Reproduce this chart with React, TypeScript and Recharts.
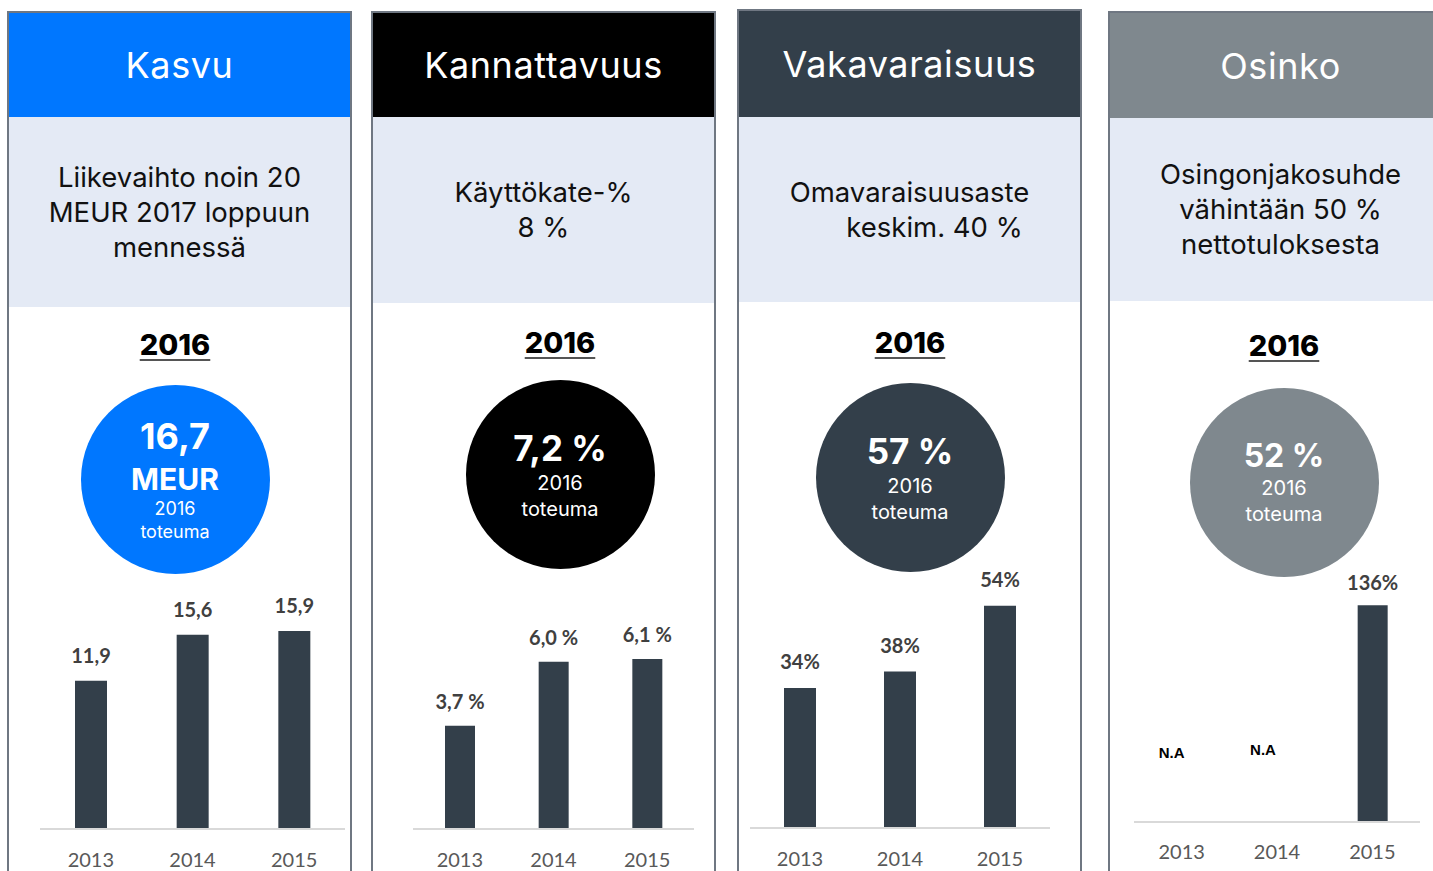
import { BarChart, Bar, XAxis, YAxis, LabelList, ReferenceDot } from 'recharts';

// data
const years = ['2013', '2014', '2015'];
const kasvuValues = [11.9, 15.6, 15.9];
const kannattavuusValues = [3.7, 6.0, 6.1];
const vakavaraisuusValues = [34, 38, 54];
const osinkoValues = [null, null, 136];
const osinkoNotes = ['N.A', 'N.A', null];

const titles = ['Kasvu', 'Kannattavuus', 'Vakavaraisuus', 'Osinko'];
const targets = [
  ['Liikevaihto noin 20', 'MEUR 2017 loppuun', 'mennessä'],
  ['Käyttökate-%', '8 %'],
  ['Omavaraisuusaste', 'keskim. 40 %'],
  ['Osingonjakosuhde', 'vähintään 50 %', 'nettotuloksesta'],
];
const actualYear = '2016';
const actuals = [['16,7', 'MEUR'], ['7,2 %'], ['57 %'], ['52 %']];
const actualNote = 'toteuma';

// non-breaking space keeps "6,0 %" on one line
const comma = (v: number) => v.toFixed(1).replace('.', ',');
const formatters = [
  (v: any) => comma(v),
  (v: any) => comma(v) + '\u00A0%',
  (v: any) => v + '%',
  (v: any) => (v == null ? '' : v + '%'),
];

// layout
const HEAD_FONT = '"Inter", "Lato", sans-serif';
const CHART_FONT = '"Lato", "Open Sans", sans-serif';
const BAR = '#333F4A';

const panels = [
  { left: 7, top: 11, headBottom: 117, bandBottom: 307, color: '#0077FF', cx: 175, cy: 479, yearY: 345,
    chart: { top: 20, left: 33, right: 7, xh: 42, max: 20, barSize: 32, lo: 18, tm: 18 } },
  { left: 371, top: 11, headBottom: 117, bandBottom: 303, color: '#000000', cx: 560, cy: 474, yearY: 343,
    chart: { top: 46, left: 42, right: 22, xh: 42, max: 8, barSize: 30, lo: 17, tm: 18 } },
  { left: 737, top: 9, headBottom: 117, bandBottom: 302, color: '#333F4A', cx: 910, cy: 477, yearY: 343,
    chart: { top: 21, left: 13, right: 32, xh: 43, max: 60, barSize: 32, lo: 19, tm: 18 } },
  { left: 1108, top: 11, headBottom: 118, bandBottom: 301, color: '#7F888E', cx: 1284, cy: 482, yearY: 346,
    chart: { top: 23, left: 26, right: 33, xh: 49, max: 150, barSize: 30, lo: 15, tm: 17 } },
];
const PANEL_W = 345;
const NA_LEVEL = 44;

const seriesValues = [kasvuValues, kannattavuusValues, vakavaraisuusValues, osinkoValues];

function CircleText({ idx, cx, cy }: { idx: number; cx: number; cy: number }) {
  const main = actuals[idx];
  const lines: { text: string; dy: number; size: number; bold: boolean }[] =
    main.length === 2
      ? [
          { text: main[0], dy: -42, size: 36, bold: true },
          { text: main[1], dy: 0, size: 30, bold: true },
          { text: actualYear, dy: 30, size: 18, bold: false },
          { text: actualNote, dy: 53, size: 18, bold: false },
        ]
      : [
          { text: main[0], dy: -26, size: idx === 3 ? 32 : 35, bold: true },
          { text: actualYear, dy: idx === 3 ? 6 : 9, size: 20, bold: false },
          { text: actualNote, dy: idx === 3 ? 32 : 35, size: 20, bold: false },
        ];
  return (
    <>
      {lines.map((l, i) => (
        <div
          key={i}
          style={{
            position: 'absolute', left: cx - 100, width: 200, top: cy + l.dy - l.size * 0.6,
            height: l.size * 1.2, lineHeight: `${l.size * 1.2}px`, textAlign: 'center',
            color: '#fff', fontSize: l.size, fontWeight: l.bold ? 700 : 400, fontFamily: HEAD_FONT,
          }}
        >
          {l.text}
        </div>
      ))}
    </>
  );
}

function MiniBars({ idx }: { idx: number }) {
  const p = panels[idx];
  const c = p.chart;
  const values = seriesValues[idx];
  const data = years.map((y, i) => ({ year: y, value: values[i] }));
  return (
    <div style={{ position: 'absolute', left: p.left, top: 560 }}>
      <BarChart width={PANEL_W} height={311} data={data} margin={{ top: c.top, left: c.left, right: c.right, bottom: 0 }}>
        <XAxis
          dataKey="year"
          interval={0}
          height={c.xh}
          tickLine={false}
          tickMargin={c.tm}
          axisLine={{ stroke: '#D9D9D9', strokeWidth: 2 }}
          tick={{ fill: '#595959', fontSize: 20, fontFamily: CHART_FONT }}
        />
        <YAxis hide domain={[0, c.max]} allowDataOverflow />
        <Bar dataKey="value" fill={BAR} barSize={c.barSize} isAnimationActive={false}>
          <LabelList
            dataKey="value"
            position="top"
            offset={c.lo}
            formatter={formatters[idx]}
            style={{ fill: '#404040', fontSize: 20, fontWeight: 700, fontFamily: CHART_FONT }}
          />
        </Bar>
        {idx === 3 &&
          osinkoNotes.map((n, i) =>
            n ? (
              <ReferenceDot
                key={i}
                x={years[i]}
                y={NA_LEVEL + i * 2}
                r={0}
                shape={(sp: any) => (
                  <text
                    x={sp.cx - (i === 0 ? 10 : 14)}
                    y={sp.cy + 6}
                    textAnchor="middle"
                    fill="#000"
                    fontSize={15}
                    fontWeight={700}
                    fontFamily='"Liberation Sans", Arial, sans-serif'
                  >
                    {n}
                  </text>
                )}
              />
            ) : null
          )}
      </BarChart>
    </div>
  );
}

function Panel({ idx }: { idx: number }) {
  const p = panels[idx];
  const lines = targets[idx];
  return (
    <>
      <div
        style={{
          position: 'absolute', left: p.left, top: p.top, width: PANEL_W, height: 900,
          border: '2px solid #6F7782', borderBottom: 'none', boxSizing: 'border-box', background: '#fff',
        }}
      >
        <div
          style={{
            height: p.headBottom - p.top - 2, background: p.color, color: '#fff',
            display: 'flex', alignItems: 'center', justifyContent: 'center',
            fontFamily: HEAD_FONT, fontSize: 36, fontWeight: 400, letterSpacing: 0.6,
          }}
        >
          {titles[idx]}
        </div>
        <div
          style={{
            height: p.bandBottom - p.headBottom, background: '#E4EAF5', color: '#111',
            display: 'flex', flexDirection: 'column', alignItems: 'center', justifyContent: 'center',
            fontFamily: HEAD_FONT, fontSize: 27.5, lineHeight: '35px',
          }}
        >
          {lines.map((l, i) => (
            <div key={i} style={idx === 2 && i === 1 ? { paddingLeft: 50 } : undefined}>
              {l}
            </div>
          ))}
        </div>
      </div>
      <div
        style={{
          position: 'absolute', left: p.cx - 60, width: 120, top: p.yearY - 20, height: 40, lineHeight: '40px',
          textAlign: 'center', fontFamily: HEAD_FONT, fontWeight: 800, fontSize: 29, color: '#000',
        }}
      >
        <span style={{ textDecoration: 'underline', textDecorationThickness: 2, textUnderlineOffset: 4, textDecorationColor: '#555' }}>
          {actualYear}
        </span>
      </div>
      <div
        style={{
          position: 'absolute', left: p.cx - 94.5, top: p.cy - 94.5, width: 189, height: 189,
          borderRadius: '50%', background: p.color,
        }}
      />
      <CircleText idx={idx} cx={p.cx} cy={p.cy} />
      <MiniBars idx={idx} />
    </>
  );
}

export default function App() {
  return (
    <div style={{ position: 'absolute', left: 0, top: 0, width: 1433, height: 871, overflow: 'hidden', background: '#fff' }}>
      {panels.map((_, i) => (
        <Panel key={i} idx={i} />
      ))}
    </div>
  );
}
